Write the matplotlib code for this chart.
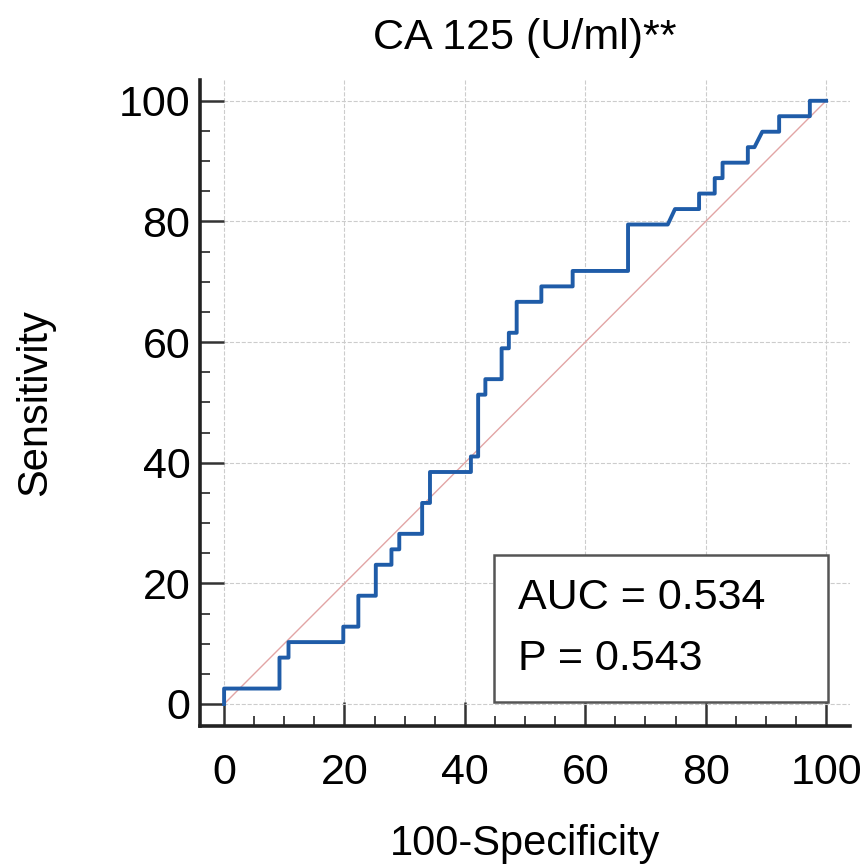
import matplotlib
matplotlib.use('Agg')
import matplotlib.pyplot as plt
from matplotlib.patches import Rectangle
from matplotlib.ticker import MultipleLocator

plt.rcParams['font.family'] = ['Liberation Sans', 'DejaVu Sans']

# ROC step curve (100-Specificity, Sensitivity)
fpr = [0.0, 0.0, 9.2, 9.2, 10.7, 10.7, 19.8, 19.8, 22.3, 22.3, 25.2, 25.2,
       27.8, 27.8, 29.1, 29.1, 32.9, 32.9, 34.2, 34.2, 41.0, 41.0, 42.2, 42.2,
       43.4, 43.4, 46.1, 46.1, 47.3, 47.3, 48.6, 48.6, 52.7, 52.7, 57.9, 57.9,
       67.1, 67.1, 73.7, 74.9, 78.9, 78.9, 81.5, 81.5, 82.8, 82.8, 87.0, 87.0,
       88.1, 89.4, 92.2, 92.2, 97.3, 97.3, 100.0]
tpr = [0.0, 2.56, 2.56, 7.69, 7.69, 10.26, 10.26, 12.82, 12.82, 17.95, 17.95, 23.08,
       23.08, 25.64, 25.64, 28.21, 28.21, 33.33, 33.33, 38.46, 38.46, 41.03, 41.03, 51.28,
       51.28, 53.85, 53.85, 58.97, 58.97, 61.54, 61.54, 66.67, 66.67, 69.23, 69.23, 71.79,
       71.79, 79.49, 79.49, 82.05, 82.05, 84.62, 84.62, 87.18, 87.18, 89.74, 89.74, 92.31,
       92.31, 94.87, 94.87, 97.44, 97.44, 100.0, 100.0]
ref_line = [0, 100]
ticks = [0, 20, 40, 60, 80, 100]
title = 'CA 125 (U/ml)**'
auc_label = 'AUC = 0.534'
p_label = 'P = 0.543'

fig = plt.figure(figsize=(8.64, 8.66), dpi=100)
ax = fig.add_axes([0.2315, 0.162, 0.7525, 0.746])

ax.plot(ref_line, ref_line, color='#e2a5a5', linewidth=1.0, zorder=2)
ax.plot(fpr, tpr, color='#1f5ca8', linewidth=2.8, zorder=3)

ax.set_xlim(-4.0, 104)
ax.set_ylim(-3.6, 103.5)
ax.set_xticks(ticks)
ax.set_yticks(ticks)
ax.xaxis.set_minor_locator(MultipleLocator(5))
ax.yaxis.set_minor_locator(MultipleLocator(5))
ax.tick_params(which='major', direction='in', length=17, width=1.8, color='#333333',
               labelsize=31)
ax.tick_params(which='minor', direction='in', length=7.5, width=1.4, color='#444444')
ax.tick_params(axis='x', which='major', pad=20)
ax.tick_params(axis='y', which='major', pad=7)
ax.grid(True, which='major', linestyle='--', color='#cccccc', linewidth=0.8)

for side in ['top', 'right']:
    ax.spines[side].set_visible(False)
for side in ['left', 'bottom']:
    ax.spines[side].set_linewidth(2.6)
    ax.spines[side].set_color('#222222')

ax.set_title(title, fontsize=31, pad=22)
ax.set_xlabel('100-Specificity', fontsize=30, labelpad=22)
ax.set_ylabel('Sensitivity', fontsize=30, labelpad=46)

# annotation box
ax.add_patch(Rectangle((44.8, 0.3), 55.5, 24.4, facecolor='white', edgecolor='#555555',
                       linewidth=1.8, zorder=5))
ax.text(48.8, 17.6, auc_label, fontsize=31, va='center', ha='left', zorder=6)
ax.text(48.8, 7.5, p_label, fontsize=31, va='center', ha='left', zorder=6)

fig.savefig('out.png', dpi=100)
